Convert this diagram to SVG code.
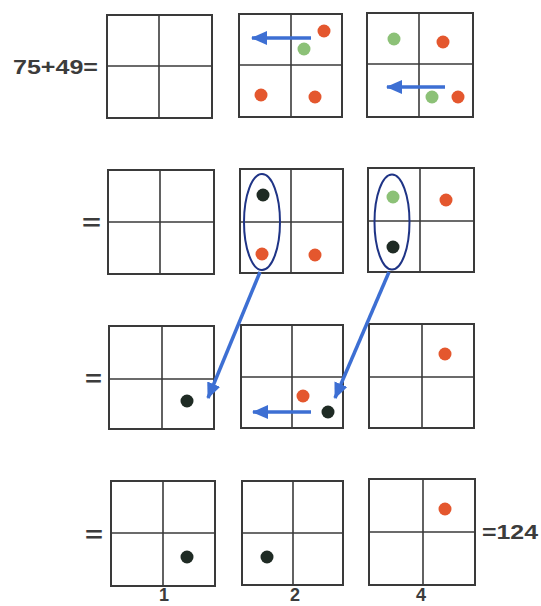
<svg xmlns="http://www.w3.org/2000/svg" width="541" height="606" viewBox="0 0 541 606">
<style>
.box{fill:none;stroke:#3a3a3a;stroke-width:2}
.mid{stroke:#3a3a3a;stroke-width:1.6}
.red{fill:#e4572e}
.green{fill:#8cc177}
.black{fill:#1f2b24}
.arr{stroke:#3d6fd3;stroke-width:3.5;fill:none;marker-end:url(#ah)}
.oval{fill:none;stroke:#1f3486;stroke-width:2}
.t{font-family:"Liberation Sans",Arial,sans-serif;font-weight:bold;fill:#3c3c3c}
</style>
<defs>
<marker id="ah" markerUnits="userSpaceOnUse" viewBox="0 0 16 14" markerWidth="16" markerHeight="14" refX="15" refY="7" orient="auto">
<path d="M0,0 L16,7 L0,14 z" fill="#3d6fd3"/>
</marker>
</defs>
<rect width="541" height="606" fill="#fff"/>

<text class="t" x="13" y="74" font-size="20" textLength="85" lengthAdjust="spacingAndGlyphs">75+49=</text>
<text class="t" x="82" y="230" font-size="22" textLength="19" lengthAdjust="spacingAndGlyphs">=</text>
<text class="t" x="85" y="386" font-size="22" textLength="17" lengthAdjust="spacingAndGlyphs">=</text>
<text class="t" x="85" y="542" font-size="22" textLength="18" lengthAdjust="spacingAndGlyphs">=</text>
<text class="t" x="482" y="539" font-size="20" textLength="56" lengthAdjust="spacingAndGlyphs">=124</text>
<text class="t" x="164" y="601" font-size="18" text-anchor="middle">1</text>
<text class="t" x="295" y="601" font-size="18" text-anchor="middle">2</text>
<text class="t" x="421" y="601" font-size="18" text-anchor="middle">4</text>

<g id="r1b1"><rect class="box" x="107" y="15" width="105" height="103"/><line class="mid" x1="159" y1="15" x2="159" y2="118"/><line class="mid" x1="107" y1="66" x2="212" y2="66"/></g>
<g id="r1b2"><rect class="box" x="239" y="14" width="103" height="103"/><line class="mid" x1="291" y1="14" x2="291" y2="117"/><line class="mid" x1="239" y1="65" x2="342" y2="65"/>
<circle class="red" cx="324" cy="31" r="6.5"/><circle class="green" cx="304" cy="49" r="6.5"/><circle class="red" cx="261" cy="95" r="6.5"/><circle class="red" cx="315" cy="97" r="6.5"/></g>
<g id="r1b3"><rect class="box" x="367" y="13" width="106" height="104"/><line class="mid" x1="419" y1="13" x2="419" y2="117"/><line class="mid" x1="367" y1="64" x2="473" y2="64"/>
<circle class="green" cx="394" cy="39" r="6.5"/><circle class="red" cx="443" cy="42" r="6.5"/><circle class="green" cx="432" cy="97" r="6.5"/><circle class="red" cx="458" cy="97" r="6.5"/></g>

<g id="r2b1"><rect class="box" x="108" y="170" width="106" height="104"/><line class="mid" x1="160" y1="170" x2="160" y2="274"/><line class="mid" x1="108" y1="222" x2="214" y2="222"/></g>
<g id="r2b2"><rect class="box" x="240" y="169" width="103" height="104"/><line class="mid" x1="291" y1="169" x2="291" y2="273"/><line class="mid" x1="240" y1="222" x2="343" y2="222"/>
<circle class="black" cx="263" cy="195" r="6.5"/><circle class="red" cx="262" cy="254" r="6.5"/><circle class="red" cx="315" cy="255" r="6.5"/>
<ellipse class="oval" cx="262" cy="222" rx="18" ry="48"/></g>
<g id="r2b3"><rect class="box" x="368" y="168" width="106" height="104"/><line class="mid" x1="420" y1="168" x2="420" y2="272"/><line class="mid" x1="368" y1="221" x2="474" y2="221"/>
<circle class="green" cx="393" cy="197" r="6.5"/><circle class="black" cx="393" cy="247" r="6.5"/><circle class="red" cx="446" cy="200" r="6.5"/>
<ellipse class="oval" cx="392" cy="222" rx="17.5" ry="47.5"/></g>

<g id="r3b1"><rect class="box" x="109" y="326" width="105" height="103"/><line class="mid" x1="162" y1="326" x2="162" y2="429"/><line class="mid" x1="109" y1="379" x2="214" y2="379"/>
<circle class="black" cx="187" cy="401" r="6.5"/></g>
<g id="r3b2"><rect class="box" x="241" y="325" width="102" height="103"/><line class="mid" x1="292" y1="325" x2="292" y2="428"/><line class="mid" x1="241" y1="377" x2="343" y2="377"/>
<circle class="red" cx="303" cy="396" r="6.5"/><circle class="black" cx="328" cy="412" r="6.5"/></g>
<g id="r3b3"><rect class="box" x="369" y="324" width="105" height="104"/><line class="mid" x1="422" y1="324" x2="422" y2="428"/><line class="mid" x1="369" y1="377" x2="474" y2="377"/>
<circle class="red" cx="445" cy="354" r="6.5"/></g>

<g id="r4b1"><rect class="box" x="111" y="481" width="104" height="105"/><line class="mid" x1="163" y1="481" x2="163" y2="586"/><line class="mid" x1="111" y1="533" x2="215" y2="533"/>
<circle class="black" cx="187" cy="557" r="6.5"/></g>
<g id="r4b2"><rect class="box" x="242" y="481" width="101" height="104"/><line class="mid" x1="293" y1="481" x2="293" y2="585"/><line class="mid" x1="242" y1="533" x2="343" y2="533"/>
<circle class="black" cx="267" cy="557" r="6.5"/></g>
<g id="r4b3"><rect class="box" x="369" y="479" width="106" height="106"/><line class="mid" x1="423" y1="479" x2="423" y2="585"/><line class="mid" x1="369" y1="532" x2="475" y2="532"/>
<circle class="red" cx="445" cy="509" r="6.5"/></g>

<g id="connectors">
<line class="arr" x1="311" y1="38" x2="252" y2="38"/>
<line class="arr" x1="445" y1="87" x2="387" y2="87"/>
<line class="arr" x1="260" y1="272" x2="208" y2="398"/>
<line class="arr" x1="389" y1="272" x2="335" y2="398"/>
<line class="arr" x1="311" y1="412" x2="253" y2="412"/>
</g>
</svg>
